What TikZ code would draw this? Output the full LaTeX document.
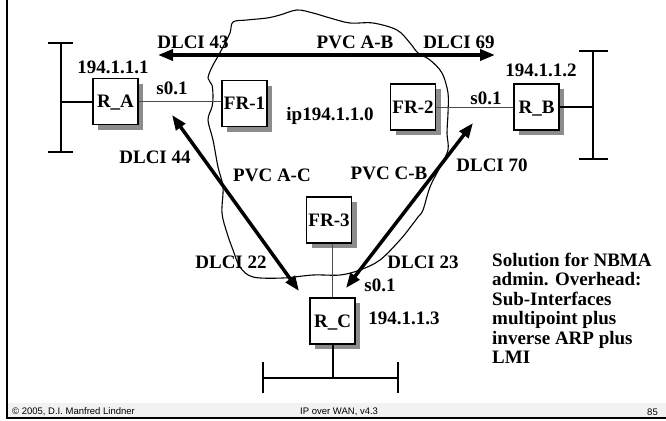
\documentclass[tikz,border=0pt]{standalone}
\usepackage{fontspec}
\setmainfont{Liberation Serif}
\newfontfamily\footfont{Liberation Sans}
\usetikzlibrary{arrows.meta,shadows}
\begin{document}
\begin{tikzpicture}[x=1pt,y=-1pt,
  box/.style={draw, line width=1.3pt, fill=white, minimum width=45pt, minimum height=46pt,
    inner sep=0pt, font=\bfseries\fontsize{19}{19}\selectfont, text height=12.6pt, text depth=0pt,
    drop shadow={shadow xshift=5pt,shadow yshift=-5pt,fill=black!45,opacity=1}},
  lbl/.style={inner sep=0pt, font=\bfseries\fontsize{19}{19}\selectfont, text height=12.6pt, text depth=0pt},
  link/.style={line width=0.9pt, draw=black!70},
  bus/.style={line width=2pt},
  pvc/.style={line width=3.5pt, {Triangle[length=15pt,width=11pt]}-{Triangle[length=15pt,width=11pt]}},
  foot/.style={inner sep=0pt, font=\footfont\fontsize{9.5}{9.5}\selectfont},
  cloud/.style={line width=1.1pt}
]
\useasboundingbox (0,0) rectangle (666,420);

% footer band and frame
\fill[black!5] (7,403) rectangle (666,417);
\draw[line width=1.3pt] (7,0) -- (7,418) -- (666,418);
\node[foot, anchor=west] (copy) at (12,412) {\textcopyright{} 2005, D.I. Manfred Lindner};
\node[foot, anchor=west] (title) at (300,412) {IP over WAN, v4.3};
\node[foot, anchor=east] (page) at (658,412) {85};

% cloud
\draw[cloud] plot[smooth cycle, tension=0.55] coordinates {
 (233,22) (247,20) (267,18) (280,15) (297,10) (313,13) (330,18) (350,23) (373,23)
 (397,30) (410,43) (418,53) (430,60) (442,73) (448,93) (448,113) (447,133) (448,150)
 (440,167) (430,187) (423,210) (418,217) (412,225) (400,240) (380,260) (360,270)
 (340,275) (313,275) (283,278) (253,277) (240,267) (233,250) (227,233) (222,213)
 (223,187) (218,167) (213,140) (208,120) (212,107) (213,97) (212,85) (208,78)
 (212,67) (217,58) (223,47) (230,33)};

% boxes
\node[box] (RA) at (115.5,101.5) {R\_A};
\node[box] (FR1) at (244.5,103.5) {FR-1};
\node[box] (FR2) at (413,107) {FR-2};
\node[box] (RB) at (536.5,107) {R\_B};
\node[box] (FR3) at (329,220) {FR-3};
\node[box] (RC) at (332.5,321) {R\_C};

% access links
\draw[link] (RA.east) -- (RA.east -| FR1.west);
\draw[link] (FR2.east) -- (RB.west);
\draw[link] (FR3.south -| RC.north) -- (RC.north);

% buses
\coordinate (LBt) at (61,43);
\coordinate (LBb) at (61,152);
\draw[bus] (LBt) -- (LBb);
\draw[bus] ([xshift=-13pt]LBt) -- ([xshift=12pt]LBt);
\draw[bus] ([xshift=-13pt]LBb) -- ([xshift=12pt]LBb);
\draw[bus] (RA.west) -- (RA.west -| LBt);

\coordinate (RBt) at (593,51);
\coordinate (RBb) at (593,159);
\draw[bus] (RBt) -- (RBb);
\draw[bus] ([xshift=-14pt]RBt) -- ([xshift=15pt]RBt);
\draw[bus] ([xshift=-14pt]RBb) -- ([xshift=15pt]RBb);
\draw[bus] (RB.east) -- (RB.east -| RBt);

\coordinate (CBl) at (263,378);
\coordinate (CBr) at (398,378);
\draw[bus] (CBl) -- (CBr);
\draw[bus] (263,362) -- (263,393);
\draw[bus] (398,362) -- (398,393);
\draw[bus] (RC.south) -- (RC.south |- CBl);

% PVC arrows
\coordinate (ab1) at (158,55);
\coordinate (ab2) at (495,55);
\coordinate (ac1) at (172,115);
\coordinate (ac2) at (299,291);
\coordinate (cb1) at (346,288);
\coordinate (cb2) at (473,123);
\draw[pvc] (ab1) -- (ab2);
\draw[pvc] (ac1) -- (ac2);
\draw[pvc] (cb1) -- (cb2);

% labels
\node[lbl] (ipA) at (113,67) {194.1.1.1};
\node[lbl] (sA) at (172,88) {s0.1};
\node[lbl] (d43) at (193,42) {DLCI 43};
\node[lbl] (pab) at (355,42) {PVC A-B};
\node[lbl] (d69) at (459,42) {DLCI 69};
\node[lbl] (net) at (330,114) {ip194.1.1.0};
\node[lbl] (ipB) at (541,70) {194.1.1.2};
\node[lbl] (sB) at (486,98) {s0.1};
\node[lbl] (d44) at (155,157) {DLCI 44};
\node[lbl] (pac) at (272,175) {PVC A-C};
\node[lbl] (pcb) at (389,173) {PVC C-B};
\node[lbl] (d70) at (492,165) {DLCI 70};
\node[lbl] (d22) at (231,262) {DLCI 22};
\node[lbl] (d23) at (423,262) {DLCI 23};
\node[lbl] (sC) at (380,285) {s0.1};
\node[lbl] (ipC) at (404,318) {194.1.1.3};
\node[inner sep=0pt, anchor=north west, align=left, font=\bfseries\fontsize{19}{19.4}\selectfont] (note) at (492,253)
  {Solution for NBMA\\admin. Overhead:\\Sub-Interfaces\\multipoint plus\\inverse ARP plus\\LMI};
\end{tikzpicture}
\end{document}
